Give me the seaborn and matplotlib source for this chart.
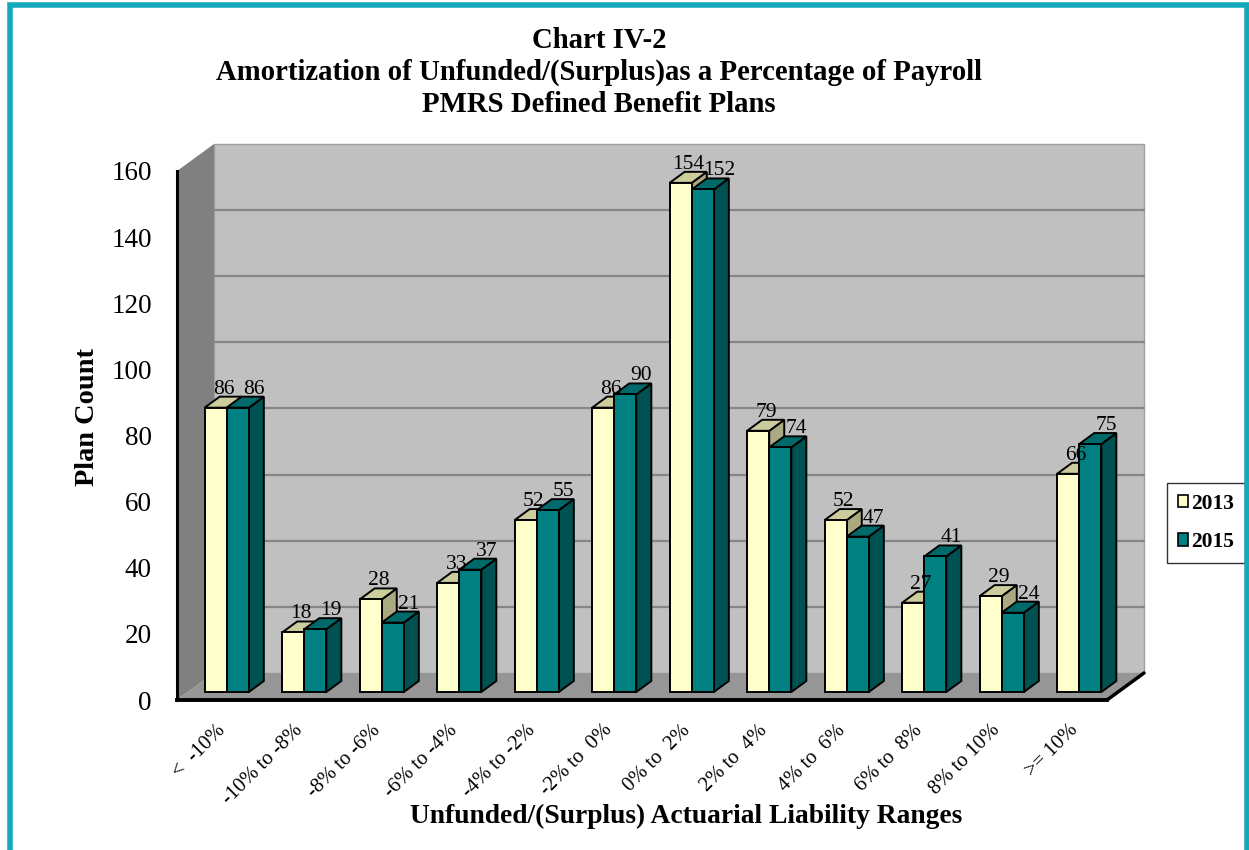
import numpy as np
import pandas as pd
import matplotlib
matplotlib.use("Agg")
import matplotlib.pyplot as plt
import seaborn as sns
from matplotlib.patches import Polygon, Rectangle
from matplotlib.transforms import ScaledTranslation, offset_copy

# ---- data -------------------------------------------------------------
ranges = ["<  -10%", "-10% to -8%", "-8% to -6%", "-6% to -4%", "-4% to -2%",
          "-2% to  0%", "0% to  2%", "2% to  4%", "4% to  6%", "6% to  8%",
          "8% to 10%", ">= 10%"]
years = ["2013", "2015"]
count_2013 = [86, 18, 28, 33, 52, 86, 154, 79, 52, 27, 29, 66]
count_2015 = [86, 19, 21, 37, 55, 90, 152, 74, 47, 41, 24, 75]
y_ticks = [0, 20, 40, 60, 80, 100, 120, 140, 160]

df = pd.DataFrame({
    "range": ranges * 2,
    "year": [years[0]] * len(ranges) + [years[1]] * len(ranges),
    "count": count_2013 + count_2015,
})

# ---- styling ----------------------------------------------------------
sns.set_theme(style="white")
plt.rcParams["font.family"] = ["Liberation Serif", "DejaVu Serif"]
plt.rcParams["text.color"] = "black"
plt.rcParams["axes.labelcolor"] = "black"
plt.rcParams["xtick.color"] = "black"
plt.rcParams["ytick.color"] = "black"

front_cols = {"2013": "#FFFFCC", "2015": "#008080"}
top_cols = {"2013": "#CCCC9C", "2015": "#006A6A"}
side_cols = {"2013": "#A9A982", "2015": "#005252"}

DPI = 100
fig = plt.figure(figsize=(12.49, 8.5), dpi=DPI)
ax = fig.add_axes([177 / 1249, 150 / 850, 930 / 1249, 529 / 850])

px_x = 930 / len(ranges)      # pixels per category
px_y = 529 / 160              # pixels per unit count

# depth of the plot box and of each bar (in data units)
wall_dx, wall_dy = 37 / px_x, 27 / px_y
bar_dx, bar_dy = 15 / px_x, 11 / px_y

# ---- bars ------------------------------------------------------------
sns.barplot(data=df, x="range", y="count", hue="year", order=ranges,
            hue_order=years, palette=front_cols, width=0.57, dodge=True,
            saturation=1, edgecolor="black", linewidth=1.4, legend=False,
            ax=ax)
ax.set_xlim(-0.5, len(ranges) - 0.5)
ax.set_ylim(0, 160)

# ---- box: left wall, back wall, floor -------------------------------
x0, x1 = -0.5, len(ranges) - 0.5
ax.add_patch(Polygon([(x0, 0), (x0, 160), (x0 + wall_dx, 160 + wall_dy),
                      (x0 + wall_dx, wall_dy)], closed=True,
                     facecolor="#808080", edgecolor="none", zorder=0.5,
                     clip_on=False))
ax.add_patch(Rectangle((x0 + wall_dx, wall_dy), x1 - x0, 160,
                       facecolor="#C0C0C0", edgecolor="#A0A0A0", lw=1,
                       zorder=0.4, clip_on=False))
for v in y_ticks[1:-1]:
    ax.plot([x0 + wall_dx, x1 + wall_dx], [v + wall_dy, v + wall_dy],
            color="#868686", lw=1.6, zorder=0.6, clip_on=False)
ax.add_patch(Polygon([(x0, 0), (x1, 0), (x1 + wall_dx, wall_dy),
                      (x0 + wall_dx, wall_dy)], closed=True,
                     facecolor="#969696", edgecolor="none", zorder=0.7,
                     clip_on=False))
# floor slab edge on the right
ax.plot([x1, x1 + wall_dx], [0, wall_dy], color="black", lw=2.5,
        zorder=0.8, clip_on=False)

# bars stand half-way into the box
shift = ScaledTranslation(11 / DPI, 8 / DPI, fig.dpi_scale_trans)
bar_tr = ax.transData + shift

for hi, (yr, cont) in enumerate(zip(years, ax.containers)):
    for ci, p in enumerate(cont.patches):
        x, w, h = p.get_x(), p.get_width(), p.get_height()
        z = 2 + ci * 0.1 + hi * 0.05
        p.set_transform(bar_tr)
        p.set_clip_on(False)
        p.set_zorder(z + 0.02)
        side = Polygon([(x + w, 0), (x + w + bar_dx, bar_dy),
                        (x + w + bar_dx, h + bar_dy), (x + w, h)],
                       closed=True, facecolor=side_cols[yr],
                       edgecolor="black", lw=1.4, transform=bar_tr,
                       zorder=z, clip_on=False)
        top = Polygon([(x, h), (x + w, h), (x + w + bar_dx, h + bar_dy),
                       (x + bar_dx, h + bar_dy)], closed=True,
                      facecolor=top_cols[yr], edgecolor="black", lw=1.4,
                      transform=bar_tr, zorder=z + 0.01, clip_on=False)
        ax.add_patch(side)
        ax.add_patch(top)
        lbl_tr = offset_copy(ax.transData, fig=fig, x=11 + 8 + 8 * hi,
                             y=8 + 11 + 3, units="dots")
        ax.text(x + w / 2, h, f"{int(round(h))}", transform=lbl_tr,
                ha="center", va="baseline", fontsize=15.5, color="black",
                zorder=5)

# ---- axes ------------------------------------------------------------
for s in ["top", "right"]:
    ax.spines[s].set_visible(False)
ax.spines["left"].set_color("black")
ax.spines["left"].set_linewidth(2.2)
ax.spines["bottom"].set_color("black")
ax.spines["bottom"].set_linewidth(2.8)
ax.spines["left"].set_zorder(6)
ax.spines["bottom"].set_zorder(6)
ax.patch.set_visible(False)

ax.set_yticks(y_ticks)
ax.set_yticklabels([str(v) for v in y_ticks], fontsize=19.5)
ax.set_xticks(np.arange(len(ranges) + 1) - 0.5, minor=True)
ax.set_xticks(np.arange(len(ranges)))
ax.set_xticklabels(ranges, rotation=45, ha="right", va="top",
                   rotation_mode="anchor", fontsize=14.8)
ax.tick_params(axis="x", which="major", length=0, pad=15)
ax.tick_params(axis="x", which="minor", length=7, width=1, color="black",
               direction="out")
ax.tick_params(axis="y", length=7, width=1, color="black", direction="out",
               pad=11)
ax.grid(False)

ax.set_xlabel("Unfunded/(Surplus) Actuarial Liability Ranges",
              fontsize=19.8, fontweight="bold", va="center")
ax.xaxis.set_label_coords((686 - 177) / 930, -116 / 529)
ax.set_ylabel("Plan Count", fontsize=20.4, fontweight="bold", va="center")
ax.yaxis.set_label_coords((88 - 177) / 930, (700 - 417) / 529)

fig.text(599 / 1249, 1 - 40 / 850, "Chart IV-2", ha="center", va="center",
         fontsize=20.7, fontweight="bold")
fig.text(599 / 1249, 1 - 72 / 850,
         "Amortization of Unfunded/(Surplus)as a Percentage of Payroll",
         ha="center", va="center", fontsize=20.7, fontweight="bold")
fig.text(599 / 1249, 1 - 104 / 850, "PMRS Defined Benefit Plans",
         ha="center", va="center", fontsize=20.7, fontweight="bold")

# ---- legend ----------------------------------------------------------
handles = [Rectangle((0, 0), 1, 1, facecolor=front_cols[y], edgecolor="black",
                     lw=1.2) for y in years]
leg = fig.legend(handles, years, loc="center",
                 bbox_to_anchor=(1206 / 1249, 1 - 523 / 850), frameon=True,
                 fancybox=False, edgecolor="black",
                 prop={"weight": "bold", "size": 15.5},
                 handlelength=0.5, handleheight=0.5, handletextpad=0.15,
                 labelspacing=0.85, borderpad=0.5, borderaxespad=0)
leg.get_frame().set_linewidth(1.0)

# ---- outer frame -----------------------------------------------------
fig.patches.append(Rectangle((9.5 / 1249, -0.05), 1237 / 1249, 1.05 - 5 / 850,
                             transform=fig.transFigure, fill=False,
                             edgecolor="#14A9B9", lw=4, zorder=10))

fig.savefig("out.png", dpi=DPI, facecolor="white")
